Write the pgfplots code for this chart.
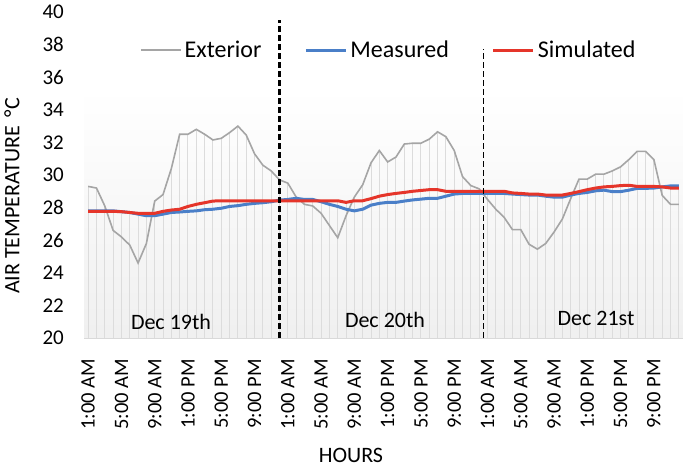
\documentclass[border=0pt]{standalone}
\usepackage{fontspec}
\setmainfont{Carlito}
\usepackage{pgfplots}
\usepackage{pgfplotstable}
\pgfplotsset{compat=1.18}
\definecolor{extc}{HTML}{A5A5A5}
\definecolor{measc}{HTML}{4A7FC8}
\definecolor{simc}{HTML}{E5352A}
\definecolor{dropc}{HTML}{DCDCDC}
\pgfplotstableread{
x ext meas sim
0 29.3 27.8 27.77
1 29.2 27.8 27.77
2 28.1 27.8 27.77
3 26.6 27.8 27.77
4 26.2 27.75 27.75
5 25.7 27.7 27.7
6 24.6 27.6 27.65
7 25.8 27.5 27.65
8 28.4 27.5 27.65
9 28.8 27.6 27.77
10 30.4 27.7 27.85
11 32.5 27.73 27.9
12 32.5 27.77 28.07
13 32.8 27.8 28.2
14 32.5 27.87 28.3
15 32.15 27.9 28.4
16 32.25 27.96 28.42
17 32.6 28.07 28.42
18 33.0 28.12 28.42
19 32.45 28.2 28.42
20 31.3 28.26 28.42
21 30.6 28.3 28.42
22 30.25 28.36 28.42
23 29.7 28.46 28.42
24 29.5 28.5 28.42
25 28.65 28.57 28.42
26 28.2 28.5 28.42
27 28.1 28.5 28.42
28 27.65 28.36 28.42
29 26.9 28.2 28.42
30 26.15 28.07 28.42
31 27.5 27.9 28.32
32 28.65 27.8 28.42
33 29.4 27.9 28.42
34 30.75 28.15 28.55
35 31.5 28.26 28.7
36 30.8 28.32 28.8
37 31.1 28.32 28.87
38 31.9 28.4 28.93
39 31.95 28.47 29.0
40 31.95 28.52 29.05
41 32.2 28.57 29.1
42 32.65 28.57 29.1
43 32.35 28.7 29.0
44 31.5 28.83 29.0
45 29.9 28.87 29.0
46 29.35 28.87 29.0
47 29.15 28.87 29.0
48 28.5 28.87 29.0
49 27.9 28.87 29.0
50 27.4 28.87 29.0
51 26.65 28.83 28.9
52 26.65 28.8 28.87
53 25.75 28.77 28.83
54 25.45 28.77 28.83
55 25.8 28.7 28.77
56 26.5 28.64 28.77
57 27.3 28.64 28.77
58 28.55 28.77 28.87
59 29.75 28.87 28.98
60 29.75 28.93 29.1
61 30.05 29.03 29.2
62 30.05 29.07 29.27
63 30.25 28.98 29.3
64 30.5 28.98 29.35
65 30.95 29.07 29.37
66 31.45 29.18 29.3
67 31.45 29.18 29.3
68 30.95 29.2 29.3
69 28.75 29.27 29.27
70 28.2 29.33 29.2
71 28.2 29.33 29.2
}\datatable
\begin{document}
\begin{tikzpicture}
\path[use as bounding box] (0bp,0bp) rectangle (685bp,468bp);
\begin{axis}[
  at={(84bp,130bp)}, anchor=south west,
  scale only axis, width=599bp, height=326bp,
  xmin=-0.5, xmax=71.5, ymin=20, ymax=40,
  ytick={20,22,...,40},
  xtick={0,4,...,68},
  xticklabels={1:00 AM,5:00 AM,9:00 AM,1:00 PM,5:00 PM,9:00 PM,1:00 AM,5:00 AM,9:00 AM,1:00 PM,5:00 PM,9:00 PM,1:00 AM,5:00 AM,9:00 AM,1:00 PM,5:00 PM,9:00 PM},
  axis lines*=left,
  separate axis lines,
  x axis line style={draw=black!15, line width=1bp},
  y axis line style={draw=none},
  tick style={draw=none},
  major tick length=0pt,
  /pgf/number format/assume math mode=true,
  yticklabel style={font=\fontsize{21bp}{25bp}\selectfont, anchor=east, inner sep=0pt},
  yticklabel shift=20bp,
  xticklabel style={font=\fontsize{20.5bp}{24bp}\selectfont, rotate=90, anchor=east, inner sep=0pt},
  xticklabel shift=21bp,
  legend columns=3,
  legend style={at={(0.0935,0.8834)}, anchor=west, draw=none, fill=none,
    inner sep=0pt, outer sep=0pt,
    font=\fontsize{24bp}{28bp}\selectfont,
    nodes={inner xsep=3bp, inner ysep=1bp},
    /tikz/every even column/.append style={column sep=40bp}},
  legend image code/.code={\draw[#1] (0bp,0bp) -- (40bp,0bp);},
]
\addplot[draw=none, top color=white, bottom color=black!6, forget plot]
  coordinates {(-0.5,20) (-0.5,35.3) (71.5,35.3) (71.5,20)} \closedcycle;
\addplot[ycomb, draw=dropc, line width=1bp, forget plot] table[x=x, y=ext] {\datatable};
\addplot[ycomb, draw=dropc, line width=1bp, forget plot] table[x=x, y=sim] {\datatable};
\addplot[ycomb, draw=dropc, line width=1bp, forget plot] table[x=x, y=meas] {\datatable};
\addplot[extc, line width=1.6bp] table[x=x, y=ext] {\datatable};
\addlegendentry{Exterior}
\addplot[measc, line width=3bp] table[x=x, y=meas] {\datatable};
\addlegendentry{Measured}
\addplot[simc, line width=3bp] table[x=x, y=sim] {\datatable};
\addlegendentry{Simulated}
\addplot[black, line width=2.1bp, dash pattern=on 6bp off 3bp, forget plot] coordinates {(23,20) (23,39.5)};
\addplot[black, line width=1.5bp, dash pattern=on 6bp off 3bp, forget plot] coordinates {(47.5,20) (47.5,37.7)};
\end{axis}
\node[font=\fontsize{22bp}{26bp}\selectfont] at (351bp,13bp) {HOURS};
\node[font=\fontsize{22bp}{26bp}\selectfont, rotate=90] at (12bp,272bp) {AIR TEMPERATURE \,°C};
\node[font=\fontsize{22bp}{26bp}\selectfont] at (171bp,146bp) {Dec 19th};
\node[font=\fontsize{22bp}{26bp}\selectfont] at (385bp,148bp) {Dec 20th};
\node[font=\fontsize{22bp}{26bp}\selectfont] at (596bp,150bp) {Dec 21st};
\end{tikzpicture}
\end{document}
